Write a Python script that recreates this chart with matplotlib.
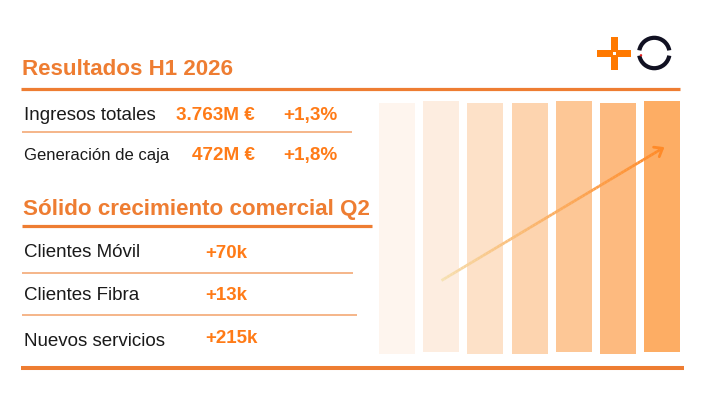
import numpy as np
import matplotlib
matplotlib.use("Agg")
import matplotlib.pyplot as plt
from matplotlib.collections import LineCollection
from matplotlib.patches import Rectangle, Wedge, Circle

plt.rcParams['font.family'] = ['Liberation Sans', 'DejaVu Sans']

# ---- data ----
title1 = "Resultados H1 2026"
kpi_labels = ["Ingresos totales", "Generación de caja"]
kpi_values = ["3.763M €", "472M €"]
kpi_growth = ["+1,3%", "+1,8%"]

title2 = "Sólido crecimiento comercial Q2"
com_labels = ["Clientes Móvil", "Clientes Fibra", "Nuevos servicios"]
com_values = ["+70k", "+13k", "+215k"]

bar_heights = [251, 251, 251, 251, 251, 251, 251]
bar_colors = ["#FEF5EE", "#FDEDE0", "#FDE1C8", "#FDD4AF", "#FDC796", "#FDBA7F", "#FDAD64"]

HEAD = "#EE7D32"
VAL = "#FF7B17"
TXT = "#1A1A1A"
SEP = "#F2A26A"

fig = plt.figure(figsize=(7.2, 4.16), dpi=100)
ax = fig.add_axes([0, 0, 1, 1])
ax.set_xlim(0, 720)
ax.set_ylim(416, 0)
ax.axis('off')

# ---- decorative bars ----
bar_x = 379 + np.arange(len(bar_heights)) * 44.2
bar_bottom = [354, 352.3, 354, 354, 352.3, 354, 352.3]
ax.bar(bar_x, [-h for h in bar_heights], width=36, bottom=bar_bottom,
       align='edge', color=bar_colors, edgecolor='none', zorder=1)

# ---- gradient arrow ----
x0, y0, x1, y1 = 441.5, 280.5, 662.5, 148.3
n = 80
t = np.linspace(0, 1, n + 1)
xs = x0 + (x1 - x0) * t
ys = y0 + (y1 - y0) * t
segs = [[(xs[i], ys[i]), (xs[i + 1], ys[i + 1])] for i in range(n)]
c0 = np.array(matplotlib.colors.to_rgb("#F6E2B4"))
c1 = np.array(matplotlib.colors.to_rgb("#FF8A28"))
cols = [tuple(c0 + (c1 - c0) * (i / (n - 1)) ** 0.8) for i in range(n)]
ax.add_collection(LineCollection(segs, colors=cols, linewidths=2.0, zorder=3, capstyle='butt'))
ang = np.arctan2(y1 - y0, x1 - x0)
hl = 9
for da in (np.deg2rad(38), -np.deg2rad(38)):
    ax.plot([x1, x1 - hl * np.cos(ang + da)], [y1, y1 - hl * np.sin(ang + da)],
            color="#FF8A28", lw=2.0, solid_capstyle='round', zorder=3)

# ---- lines ----
ax.plot([21, 680], [89, 89], color=HEAD, lw=2.3, solid_capstyle='butt')
ax.plot([22, 352], [132, 132], color=SEP, lw=1.1, solid_capstyle='butt')
ax.plot([22, 372], [226, 226], color=HEAD, lw=2.3, solid_capstyle='butt')
ax.plot([22, 353], [273, 273], color=SEP, lw=1.1, solid_capstyle='butt')
ax.plot([22, 357], [315, 315], color=SEP, lw=1.1, solid_capstyle='butt')
ax.plot([21, 684], [368, 368], color=HEAD, lw=2.9, solid_capstyle='butt')

# ---- text section 1 ----
ax.text(22, 75, title1, fontsize=16.1, fontweight='bold', color=HEAD, va='baseline', ha='left')
kpi_base = [120, 160]
kpi_sizes = [13.5, 12.0]
for lab, v, g, yb, fs in zip(kpi_labels, kpi_values, kpi_growth, kpi_base, kpi_sizes):
    ax.text(24, yb, lab, fontsize=fs, color=TXT, va='baseline', ha='left')
    ax.text(255, yb, v, fontsize=13.6, fontweight='bold', color=VAL, va='baseline', ha='right')
    ax.text(283, yb, g, fontsize=13.6, fontweight='bold', color=VAL, va='baseline', ha='left')

# ---- text section 2 ----
ax.text(23, 215, title2, fontsize=16.1, fontweight='bold', color=HEAD, va='baseline', ha='left')
com_base = [257, 300, 346]
val_base = [258, 300, 343]
for lab, v, yb, vb in zip(com_labels, com_values, com_base, val_base):
    ax.text(24, yb, lab, fontsize=13.5, color=TXT, va='baseline', ha='left')
    ax.text(205, vb, v, fontsize=13.5, fontweight='bold', color=VAL, va='baseline', ha='left')

# ---- logo ----
ax.add_patch(Rectangle((610.7, 37), 6.8, 33, color="#FF7900", lw=0, zorder=5))
ax.add_patch(Rectangle((597, 50), 34, 7, color="#FF7900", lw=0, zorder=5))
ax.add_patch(Rectangle((612.6, 52.0), 3.0, 3.0, color="white", lw=0, zorder=6))
ax.add_patch(Wedge((654.3, 53), 17.3, 10, 170, width=4.2, color="#111122", lw=0, zorder=5))
ax.add_patch(Wedge((654.3, 53), 17.3, 190, 350, width=4.2, color="#111122", lw=0, zorder=5))
ax.add_patch(Circle((641, 55.3), 1.2, color="#E02020", lw=0, zorder=6))

fig.savefig("out.png", dpi=100)
